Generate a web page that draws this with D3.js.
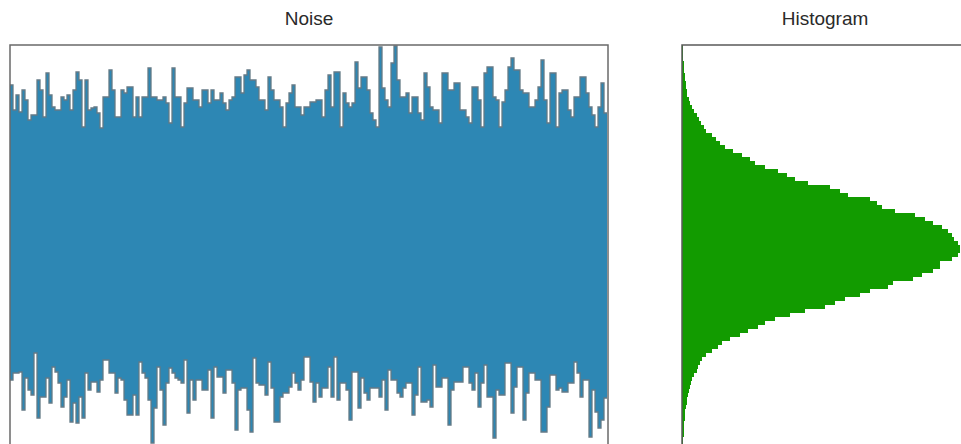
<!DOCTYPE html>
<html>
<head>
<meta charset="utf-8">
<script src="https://cdn.jsdelivr.net/npm/d3@7/dist/d3.min.js"></script>
<style>
  html, body { margin: 0; padding: 0; background: #fff; }
  svg { display: block; }
  .title { font-family: "Liberation Sans", Arial, sans-serif; font-size: 19px; fill: #2a2a2a; }
</style>
</head>
<body>
<svg id="chart" width="961" height="444"></svg>
<script>
// Panel titles
const titles = ["Noise", "Histogram"];

// Noise signal: per-sample upper and lower excursion (sigma units)
const noiseUpper = [
  3.24,2.74,3.04,2.70,3.14,2.94,2.54,2.64,2.64,3.34,3.14,2.60,3.48,3.04,2.80,2.74,2.74,3.00,2.94,3.04,
  2.74,3.14,3.50,3.34,2.40,3.34,2.74,2.78,2.80,2.68,2.38,3.00,3.00,3.54,3.14,2.60,2.60,3.14,3.08,3.20,
  3.20,2.60,3.00,2.60,3.00,3.00,3.58,3.00,3.00,2.94,2.94,3.00,2.88,2.48,3.58,3.00,3.00,2.40,2.88,3.18,
  3.18,2.94,2.94,2.80,3.14,3.14,2.88,3.14,2.94,2.94,3.08,2.88,2.74,2.94,3.00,3.40,3.40,3.08,3.44,3.54,
  3.34,3.34,3.20,2.94,2.94,2.74,3.40,3.14,2.94,2.94,2.80,2.40,2.88,3.08,3.24,2.80,2.80,2.64,2.80,2.80,
  2.90,2.90,2.94,2.94,2.60,3.14,3.44,2.80,3.50,3.50,2.40,3.08,2.88,2.80,2.88,3.70,3.18,3.40,3.40,3.14,
  2.68,2.54,2.40,4.00,3.18,2.94,2.80,3.68,4.02,3.34,3.00,3.00,3.08,2.68,3.00,3.00,2.68,2.54,3.48,3.20,
  2.80,2.74,2.74,2.48,3.48,3.48,3.14,3.14,3.28,3.28,2.74,2.74,2.60,2.48,3.20,3.20,2.94,2.40,3.48,3.60,
  3.60,3.00,2.94,2.40,2.90,3.14,3.60,3.78,3.54,3.54,3.14,3.08,3.08,2.80,2.80,2.94,3.20,3.74,2.94,2.48,
  3.48,3.48,2.40,3.08,3.14,3.14,2.74,2.60,3.00,3.00,3.40,3.40,3.08,2.80,2.64,2.40,2.80,3.28,2.68
];
const noiseLower = [
  -2.66,-2.52,-2.52,-2.50,-3.26,-2.62,-2.86,-2.96,-2.12,-3.42,-3.00,-3.00,-2.62,-3.12,-2.40,-2.50,-2.72,-3.20,-3.00,-2.66,
  -3.50,-3.12,-3.52,-3.00,-3.42,-2.52,-2.86,-2.70,-2.70,-2.90,-2.66,-2.26,-2.26,-2.52,-2.52,-2.92,-2.62,-2.66,-3.06,-3.36,
  -3.36,-2.96,-3.36,-2.30,-2.52,-2.62,-3.06,-3.92,-3.22,-2.40,-2.86,-3.56,-2.72,-2.42,-2.52,-2.62,-2.66,-2.72,-2.26,-3.32,
  -2.66,-3.06,-2.66,-2.66,-2.86,-2.86,-2.46,-3.42,-2.40,-2.60,-2.60,-2.92,-2.46,-2.46,-2.72,-3.66,-2.86,-2.82,-2.82,-3.26,
  -3.70,-2.22,-2.72,-2.76,-2.76,-2.96,-2.30,-2.82,-3.50,-3.50,-3.00,-2.92,-2.92,-2.80,-2.52,-2.72,-2.86,-2.66,-2.20,-2.20,
  -2.70,-3.10,-2.72,-3.00,-2.82,-2.82,-2.40,-3.00,-2.20,-3.06,-2.72,-2.72,-2.86,-3.46,-2.50,-2.50,-3.22,-2.62,-2.92,-3.06,
  -2.82,-2.82,-2.82,-3.00,-2.66,-3.26,-2.46,-2.66,-2.66,-2.92,-3.00,-2.82,-2.72,-2.72,-3.36,-2.96,-2.40,-3.10,-3.10,-3.06,
  -3.20,-2.36,-2.80,-2.80,-2.62,-2.62,-3.56,-2.86,-2.70,-2.70,-2.70,-2.40,-2.40,-2.72,-2.86,-2.52,-3.20,-2.72,-2.36,-3.00,
  -3.00,-3.82,-2.86,-2.96,-2.96,-2.32,-2.32,-3.32,-2.80,-2.40,-2.40,-3.46,-2.92,-2.52,-2.52,-2.66,-2.66,-3.70,-3.70,-3.20,
  -2.56,-2.56,-2.86,-2.82,-2.90,-2.90,-2.72,-2.72,-2.30,-2.52,-3.00,-2.66,-2.66,-3.80,-2.86,-3.30,-3.62,-3.46,-3.02
];

// Histogram of the noise values: bin edges start at histStart, width histStep, counts bottom to top
const histStart = -3.96;
const histStep = 0.08;
const histCounts = [
  6,6,12,12,12,12,18,18,18,24,30,30,36,42,48,54,60,72,90,96,
  108,120,144,180,216,240,288,348,396,456,498,558,648,738,858,918,978,1068,1128,1236,
  1266,1386,1440,1506,1548,1548,1620,1656,1668,1668,1656,1632,1620,1596,1560,1506,1458,1398,1278,1200,
  1170,1128,996,948,888,756,678,630,576,498,438,408,360,306,258,228,204,180,144,132,
  114,102,90,72,60,48,42,30,30,24,24,18,18,12,12,12,6,6,6,6
];

const svg = d3.select("#chart");

// Shared value axis for both panels
const yDomain = [-4.04, 4.04];
const plotTop = 45, plotBottom = 449;
const y = d3.scaleLinear().domain(yDomain).range([plotBottom, plotTop]);

// ---------- Noise panel ----------
const noiseBox = { x0: 10, x1: 608 };
const n = noiseUpper.length;
const xNoise = d3.scaleLinear().domain([0, n]).range([noiseBox.x0, noiseBox.x1 - 1]);
const samples = noiseUpper.map((hi, i) => ({ i, hi, lo: noiseLower[i] }));
samples.push({ i: n, hi: noiseUpper[n - 1], lo: noiseLower[n - 1] });

svg.append("clipPath").attr("id", "noiseClip")
  .append("rect").attr("x", noiseBox.x0).attr("y", plotTop)
  .attr("width", noiseBox.x1 - noiseBox.x0).attr("height", plotBottom - plotTop);

const gNoise = svg.append("g").attr("clip-path", "url(#noiseClip)");

gNoise.append("path")
  .datum(samples)
  .attr("fill", "#2d87b4")
  .attr("d", d3.area()
    .x(d => xNoise(d.i))
    .y0(d => y(d.lo))
    .y1(d => y(d.hi))
    .curve(d3.curveStepAfter));

const edge = key => d3.line().x(d => xNoise(d.i)).y(d => y(d[key])).curve(d3.curveStepAfter);
["hi", "lo"].forEach(k => {
  gNoise.append("path")
    .datum(samples)
    .attr("fill", "none")
    .attr("stroke", "#647a86")
    .attr("stroke-width", 1.3)
    .attr("d", edge(k));
});

svg.append("rect")
  .attr("x", noiseBox.x0).attr("y", plotTop)
  .attr("width", noiseBox.x1 - noiseBox.x0).attr("height", plotBottom - plotTop)
  .attr("fill", "none").attr("stroke", "#6a6a6a").attr("stroke-width", 1.5);

svg.append("text").attr("class", "title")
  .attr("x", (noiseBox.x0 + noiseBox.x1) / 2).attr("y", 25)
  .attr("text-anchor", "middle").text(titles[0]);

// ---------- Histogram panel ----------
const histBox = { x0: 682, x1: 968 };
const xHist = d3.scaleLinear().domain([0, 1716]).range([histBox.x0, histBox.x1]);
const bins = histCounts.map((c, j) => ({
  lo: histStart + j * histStep,
  hi: histStart + (j + 1) * histStep,
  count: c
}));

svg.append("g")
  .attr("shape-rendering", "crispEdges")
  .selectAll("rect")
  .data(bins)
  .join("rect")
  .attr("x", histBox.x0)
  .attr("y", d => y(d.hi))
  .attr("width", d => xHist(d.count) - histBox.x0)
  .attr("height", d => y(d.lo) - y(d.hi))
  .attr("fill", "#129b00");

svg.append("rect")
  .attr("x", histBox.x0).attr("y", plotTop)
  .attr("width", histBox.x1 - histBox.x0).attr("height", plotBottom - plotTop)
  .attr("fill", "none").attr("stroke", "#5a5a5a").attr("stroke-width", 1.5);

svg.append("text").attr("class", "title")
  .attr("x", (histBox.x0 + histBox.x1) / 2).attr("y", 25)
  .attr("text-anchor", "middle").text(titles[1]);
</script>
</body>
</html>
